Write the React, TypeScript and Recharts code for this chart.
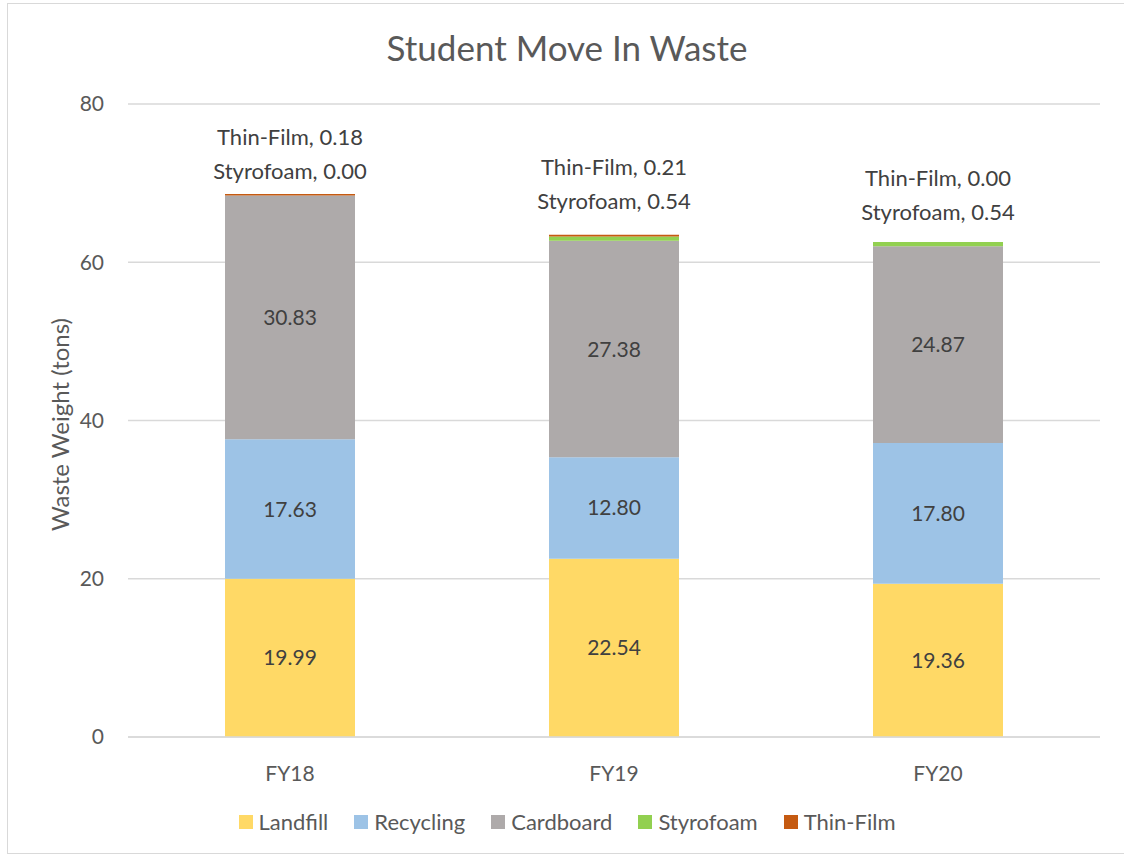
import React from "react";
import { BarChart, Bar, XAxis, YAxis, CartesianGrid, LabelList, Legend } from "recharts";

const categories = ["FY18", "FY19", "FY20"];
const landfill = [19.99, 22.54, 19.36];
const recycling = [17.63, 12.8, 17.8];
const cardboard = [30.83, 27.38, 24.87];
const styrofoam = [0.0, 0.54, 0.54];
const thinFilm = [0.18, 0.21, 0.0];
const yTicks = [0, 20, 40, 60, 80];

const topLabelLift = [23, 34, 30];

const data = categories.map((c, i) => ({
  name: c,
  Landfill: landfill[i],
  Recycling: recycling[i],
  Cardboard: cardboard[i],
  Styrofoam: styrofoam[i],
  "Thin-Film": thinFilm[i],
}));

const FONT = "Lato, 'Open Sans', sans-serif";
const TXT = "#595959";
const LBL = "#404040";

const fmt = (v: any) => Number(v).toFixed(2);

const TopLabels = (props: any) => {
  const { x, y, width, height, index, value } = props;
  const cx = x + width / 2;
  const perUnit = Number(height) / Number(value);
  const top = y - (styrofoam[index] + thinFilm[index]) * perUnit;
  const base = top - topLabelLift[index];
  const st = { fontSize: 22, fontFamily: FONT };
  return (
    <g>
      <text x={cx} y={base - 34} textAnchor="middle" dominantBaseline="central" fill={LBL} style={st}>
        {`Thin-Film, ${fmt(thinFilm[index])}`}
      </text>
      <text x={cx} y={base} textAnchor="middle" dominantBaseline="central" fill={LBL} style={st}>
        {`Styrofoam, ${fmt(styrofoam[index])}`}
      </text>
    </g>
  );
};

const series = [
  { key: "Landfill", color: "#FFD966" },
  { key: "Recycling", color: "#9DC3E6" },
  { key: "Cardboard", color: "#AEAAAA" },
  { key: "Styrofoam", color: "#92D050" },
  { key: "Thin-Film", color: "#C55A11" },
];

const LegendContent = () => (
  <div style={{ display: "flex", justifyContent: "center", fontFamily: FONT, fontSize: 22, color: TXT, lineHeight: "28px", paddingLeft: 10 }}>
    {series.map((s) => (
      <div key={s.key} style={{ display: "flex", alignItems: "center", margin: "0 13px" }}>
        <div style={{ width: 14, height: 14, background: s.color, marginRight: 6 }} />
        <span>{s.key}</span>
      </div>
    ))}
  </div>
);

const AxisTitle = (props: any) => {
  const { viewBox } = props;
  const cx = viewBox.x + 59;
  const cy = viewBox.y + viewBox.height / 2 + 4;
  return (
    <text
      x={cx}
      y={cy}
      transform={`rotate(-90 ${cx} ${cy})`}
      textAnchor="middle"
      dominantBaseline="central"
      fill={TXT}
      style={{ fontSize: 24, fontFamily: FONT }}
    >
      Waste Weight (tons)
    </text>
  );
};

export default function App() {
  return (
    <div style={{ position: "absolute", left: 0, top: 0, width: 1124, height: 858, background: "#fff", overflow: "hidden" }}>
      <div style={{ position: "absolute", left: 7, top: 3, width: 1200, height: 851, border: "1px solid #d9d9d9", boxSizing: "border-box" }} />
      <div style={{ position: "absolute", left: 0, top: 26, width: 1134, textAlign: "center", fontFamily: FONT, fontSize: 35, lineHeight: "42px", color: TXT }}>
        Student Move In Waste
      </div>
      <div style={{ position: "absolute", left: 0, top: 0 }}>
        <BarChart width={1124} height={858} data={data} margin={{ top: 104, right: 24, bottom: 0, left: 0 }} barSize={130}>
          <CartesianGrid vertical={false} stroke="#d9d9d9" strokeWidth={1.5} />
          <XAxis
            dataKey="name"
            height={121}
            axisLine={{ stroke: "#d9d9d9", strokeWidth: 1.5 }}
            tickLine={false}
            tick={{ fill: TXT, fontSize: 21, fontFamily: FONT }}
            tickMargin={23}
          />
          <YAxis
            width={128}
            domain={[0, 80]}
            ticks={yTicks}
            axisLine={false}
            tickLine={false}
            tick={{ fill: TXT, fontSize: 21, fontFamily: FONT }}
            tickMargin={18}
            label={<AxisTitle />}
          />
          <Legend verticalAlign="middle" layout="horizontal" wrapperStyle={{ top: 808, left: 0, width: 1124 }} content={<LegendContent />} />
          <Bar dataKey="Landfill" stackId="a" fill="#FFD966" isAnimationActive={false}>
            <LabelList dataKey="Landfill" position="center" formatter={fmt} fill={LBL} fontSize={21} fontFamily={FONT} />
          </Bar>
          <Bar dataKey="Recycling" stackId="a" fill="#9DC3E6" isAnimationActive={false}>
            <LabelList dataKey="Recycling" position="center" formatter={fmt} fill={LBL} fontSize={21} fontFamily={FONT} />
          </Bar>
          <Bar dataKey="Cardboard" stackId="a" fill="#AEAAAA" isAnimationActive={false}>
            <LabelList dataKey="Cardboard" position="center" formatter={fmt} fill={LBL} fontSize={21} fontFamily={FONT} />
            <LabelList dataKey="Cardboard" content={<TopLabels />} />
          </Bar>
          <Bar dataKey="Styrofoam" stackId="a" fill="#92D050" isAnimationActive={false} />
          <Bar dataKey="Thin-Film" stackId="a" fill="#C55A11" isAnimationActive={false} />
        </BarChart>
      </div>
    </div>
  );
}
